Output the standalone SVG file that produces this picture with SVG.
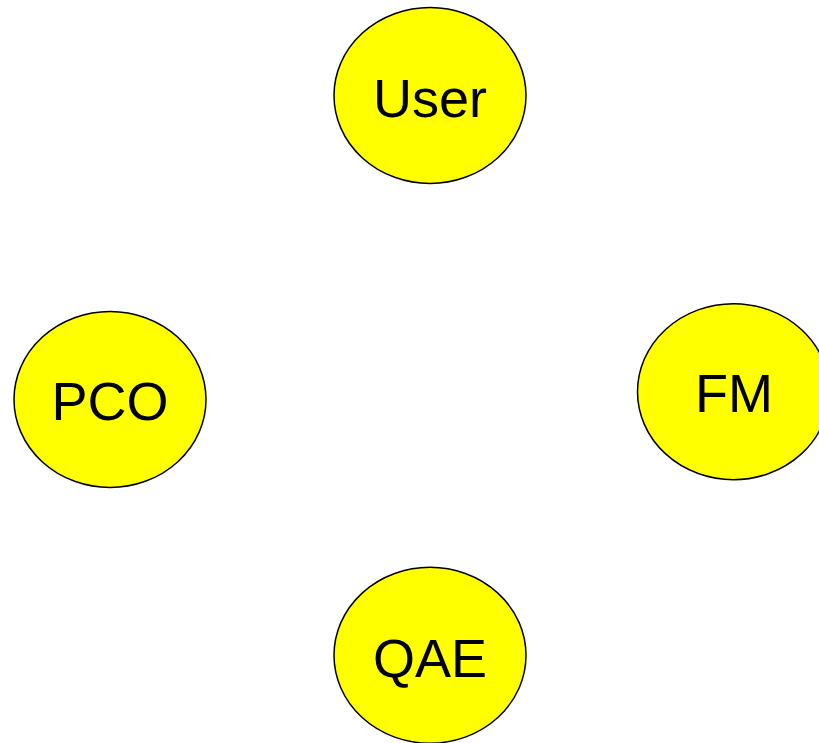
<svg xmlns="http://www.w3.org/2000/svg" width="819" height="743" viewBox="0 0 819 743">
<style>
.n ellipse{fill:#ffff00;stroke:#000;stroke-width:1.5}
.n text{font-family:"Liberation Sans",Arial,sans-serif;font-size:54px;fill:#000;text-anchor:middle}
</style>
<rect width="819" height="743" fill="#fff"/>
<g id="connectors"/>
<g id="user" class="n"><ellipse cx="430" cy="95.5" rx="96" ry="88"/><text x="430" y="117">User</text></g>
<g id="pco" class="n"><ellipse cx="110" cy="399.5" rx="96" ry="88"/><text x="110" y="420">PCO</text></g>
<g id="fm" class="n"><ellipse cx="733.5" cy="391.7" rx="96" ry="88"/><text x="734" y="412">FM</text></g>
<g id="qae" class="n"><ellipse cx="430" cy="655.3" rx="96" ry="88"/><text x="430" y="677">QAE</text></g>
</svg>
